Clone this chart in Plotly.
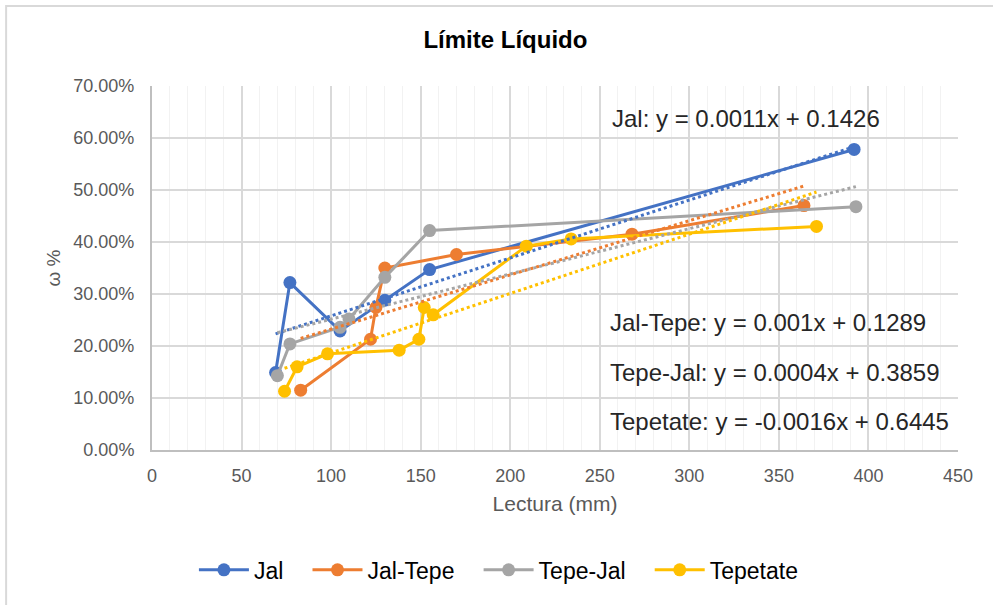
import numpy as np
import plotly.graph_objects as go

# Liquid limit test readings: cone penetration reading (mm) vs. water content
lectura_jal = [69, 77, 105, 130, 155, 392]
w_jal = [0.149, 0.322, 0.229, 0.288, 0.347, 0.578]

lectura_jal_tepe = [83, 122, 125, 130, 170, 268, 364]
w_jal_tepe = [0.115, 0.213, 0.274, 0.350, 0.376, 0.415, 0.470]

lectura_tepe_jal = [70, 77, 105, 110, 130, 155, 393]
w_tepe_jal = [0.143, 0.204, 0.236, 0.252, 0.332, 0.422, 0.468]

lectura_tepetate = [74, 81, 98, 138, 149, 152, 157, 209, 234, 371]
w_tepetate = [0.113, 0.160, 0.185, 0.192, 0.213, 0.274, 0.260, 0.392, 0.406, 0.430]

series_names = ["Jal", "Jal-Tepe", "Tepe-Jal", "Tepetate"]
series_colors = ["#4472C4", "#ED7D31", "#A5A5A5", "#FFC000"]

equation_labels = [
    "Jal: y = 0.0011x + 0.1426",
    "Jal-Tepe: y = 0.001x + 0.1289",
    "Tepe-Jal: y = 0.0004x + 0.3859",
    "Tepetate: y = -0.0016x + 0.6445",
]

x_ticks = [0, 50, 100, 150, 200, 250, 300, 350, 400, 450]
y_ticks = [0.0, 0.1, 0.2, 0.3, 0.4, 0.5, 0.6, 0.7]

FONT = "Liberation Sans, Arial, sans-serif"
LEGEND_PAD = "\u00a0\u00a0\u00a0"  # extra room between legend entries

data = [
    (lectura_jal, w_jal),
    (lectura_jal_tepe, w_jal_tepe),
    (lectura_tepe_jal, w_tepe_jal),
    (lectura_tepetate, w_tepetate),
]

fig = go.Figure()

for name, color, (xs, ys) in zip(series_names, series_colors, data):
    fig.add_trace(go.Scatter(
        x=xs, y=ys, name=name + LEGEND_PAD, mode="lines+markers",
        line=dict(color=color, width=3),
        marker=dict(color=color, size=13),
    ))

# Linear trendlines over each series' reading range
for name, color, (xs, ys) in zip(series_names, series_colors, data):
    slope, intercept = np.polyfit(xs, ys, 1)
    tx = np.array([min(xs), max(xs)], dtype=float)
    fig.add_trace(go.Scatter(
        x=tx, y=slope * tx + intercept, mode="lines",
        line=dict(color=color, width=3, dash="dot"),
        showlegend=False, hoverinfo="skip",
    ))

# Equation labels
label_pos = [(0.568, 0.912), (0.566, 0.349), (0.566, 0.214), (0.566, 0.077)]
for text, (ax, ay) in zip(equation_labels, label_pos):
    fig.add_annotation(
        x=ax, y=ay, xref="paper", yref="paper", text=text,
        showarrow=False, xanchor="left", yanchor="middle",
        font=dict(family=FONT, size=24, color="#262626"),
    )

# Chart area border
fig.add_shape(
    type="rect", xref="paper", yref="paper",
    x0=-0.181, y0=-0.44, x1=1.06, y1=1.22,
    line=dict(color="#D9D9D9", width=2), fillcolor="rgba(0,0,0,0)",
    layer="below",
)

fig.update_layout(
    width=993, height=605,
    margin=dict(l=152, r=35, t=86, b=155),
    paper_bgcolor="white", plot_bgcolor="white",
    title=dict(
        text="<b>Límite Líquido</b>",
        x=0.509, xref="container", xanchor="center",
        y=0.934, yref="container", yanchor="middle",
        font=dict(family=FONT, size=24, color="#000000"),
    ),
    font=dict(family=FONT, color="#595959"),
    legend=dict(
        orientation="h", x=0.512, xref="container", xanchor="center",
        y=0.058, yref="container", yanchor="middle",
        font=dict(family=FONT, size=23, color="#000000"),
        itemwidth=50, bgcolor="rgba(0,0,0,0)",
    ),
    showlegend=True,
)

fig.update_xaxes(
    range=[0, 450], tickvals=x_ticks, ticks="",
    showgrid=True, gridcolor="#D9D9D9", gridwidth=1.5,
    minor=dict(dtick=10, showgrid=True, gridcolor="#F2F2F2", gridwidth=1),
    showline=True, linecolor="#BFBFBF", linewidth=2, mirror=False,
    zeroline=False,
    tickfont=dict(family=FONT, size=18, color="#595959"),
    ticklabelstandoff=8,
    title=dict(text="Lectura (mm)", standoff=12,
               font=dict(family=FONT, size=21, color="#595959")),
)

fig.update_yaxes(
    range=[0, 0.7], tickvals=y_ticks, tickformat=".2%", ticks="",
    showgrid=True, gridcolor="#D9D9D9", gridwidth=1.5,
    showline=True, linecolor="#BFBFBF", linewidth=2,
    zeroline=False,
    tickfont=dict(family=FONT, size=18, color="#595959"),
    ticklabelstandoff=12,
    title=dict(text="ω %", standoff=8,
               font=dict(family=FONT, size=19, color="#595959")),
)

fig.write_html("out.html")
